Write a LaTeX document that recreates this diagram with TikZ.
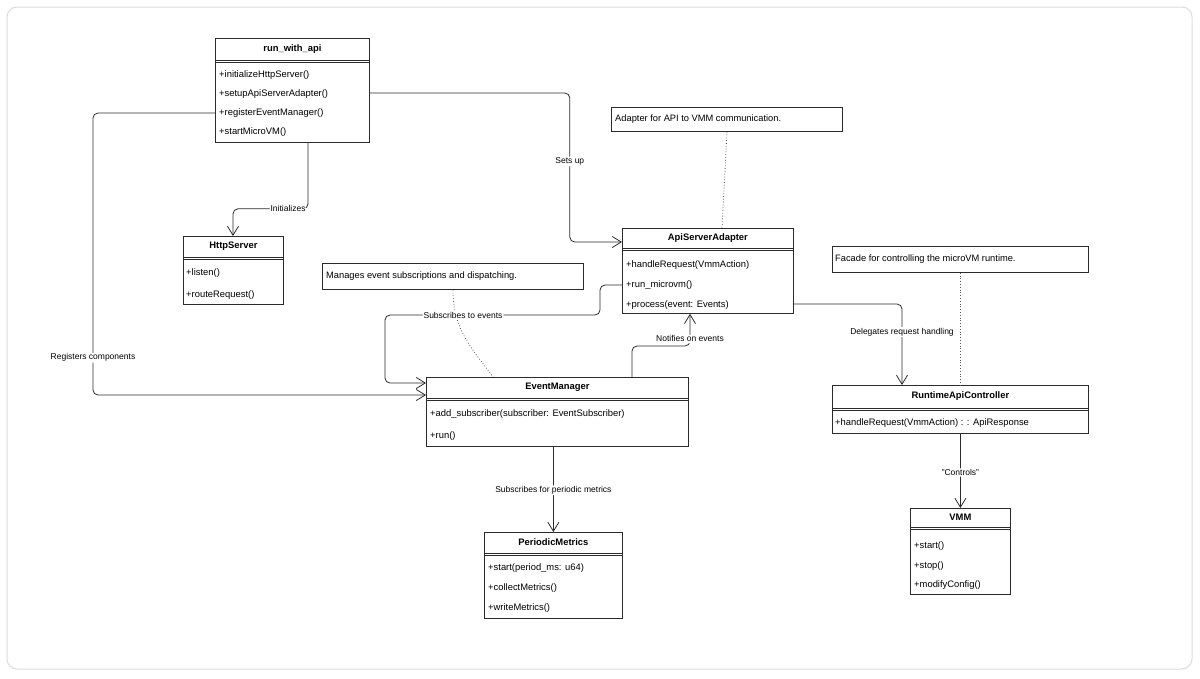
\documentclass[tikz,border=0pt]{standalone}
\usepackage{fontspec}
\setmainfont{Liberation Sans}
\usetikzlibrary{arrows.meta,calc}
\definecolor{lc}{HTML}{2B2B2B}
\definecolor{framec}{HTML}{DCDCDC}
\tikzset{
  cls/.style={draw=lc, line width=0.8pt, fill=white, rectangle, inner sep=0pt, anchor=north west},
  sepline/.style={draw=lc, line width=0.8pt},
  ctitle/.style={font=\fontsize{9.4}{11}\selectfont\bfseries, inner sep=0pt},
  member/.style={font=\fontsize{9.4}{11}\selectfont, anchor=west, inner sep=0pt},
  notebox/.style={draw=lc, line width=0.8pt, fill=white, rectangle, inner sep=0pt, anchor=north west},
  notetext/.style={font=\fontsize{9.3}{11}\selectfont, anchor=west, inner sep=0pt},
  conn/.style={draw=lc, line width=0.8pt, rounded corners=5pt, -{Straight Barb[length=9pt,width=11pt,line width=0.8pt]}},
  lbl/.style={font=\fontsize{8.5}{10}\selectfont, fill=white, inner sep=1pt},
  anno/.style={draw=lc!80, line width=0.8pt, dotted},
}
% #1 node name, #2 header height (pt), #3 title
\newcommand\clshead[3]{%
  \draw[sepline] ([yshift=-#2pt]#1.north west) -- ([yshift=-#2pt]#1.north east);
  \draw[sepline] ([yshift=-#2pt-2.2pt]#1.north west) -- ([yshift=-#2pt-2.2pt]#1.north east);
  \node[ctitle] (#1-t) at ([yshift=-#2pt/2]#1.north) {#3};
}
\begin{document}
\begin{tikzpicture}[x=1pt,y=-1pt]
\useasboundingbox (0,0) rectangle (1200,678);
\draw[framec, line width=1pt, rounded corners=10pt] (7,7) rectangle (1192,669);

% ---- classes ----
\node[cls, minimum width=154pt, minimum height=104pt] (run) at (215,38) {};
\clshead{run}{22}{run\_with\_api}
\node[member] (run-m1) at (219,75) {+initializeHttpServer()};
\node[member] (run-m2) at (219,94) {+setupApiServerAdapter()};
\node[member] (run-m3) at (219,113) {+registerEventManager()};
\node[member] (run-m4) at (219,132) {+startMicroVM()};

\node[cls, minimum width=100pt, minimum height=68pt] (http) at (183,236) {};
\clshead{http}{21}{HttpServer}
\node[member] (http-m1) at (186,273) {+listen()};
\node[member] (http-m2) at (186,295) {+routeRequest()};

\node[cls, minimum width=171pt, minimum height=85pt] (api) at (622,228) {};
\clshead{api}{20}{ApiServerAdapter}
\node[member] (api-m1) at (626,265) {+handleRequest(VmmAction)};
\node[member] (api-m2) at (626,285) {+run\_microvm()};
\node[member] (api-m3) at (626,305) {+process(event: Events)};

\node[cls, minimum width=262pt, minimum height=69pt] (em) at (426,377) {};
\clshead{em}{21}{EventManager}
\node[member] (em-m1) at (430,414) {+add\_subscriber(subscriber: EventSubscriber)};
\node[member] (em-m2) at (430,436) {+run()};

\node[cls, minimum width=256pt, minimum height=48pt] (rac) at (832,385) {};
\clshead{rac}{23}{RuntimeApiController}
\node[member] (rac-m1) at (835,423) {+handleRequest(VmmAction) : : ApiResponse};

\node[cls, minimum width=100pt, minimum height=86pt] (vmm) at (910,508) {};
\clshead{vmm}{19}{VMM}
\node[member] (vmm-m1) at (914,546) {+start()};
\node[member] (vmm-m2) at (914,566) {+stop()};
\node[member] (vmm-m3) at (914,585) {+modifyConfig()};

\node[cls, minimum width=138pt, minimum height=86pt] (pm) at (484,532) {};
\clshead{pm}{21}{PeriodicMetrics}
\node[member] (pm-m1) at (488,568) {+start(period\_ms: u64)};
\node[member] (pm-m2) at (488,588) {+collectMetrics()};
\node[member] (pm-m3) at (488,608) {+writeMetrics()};

% ---- notes ----
\node[notebox, minimum width=231pt, minimum height=24pt] (n1) at (611,107) {};
\node[notetext] (n1-t) at (615,119) {Adapter for API to VMM communication.};
\node[notebox, minimum width=261pt, minimum height=26pt] (n2) at (322,263) {};
\node[notetext] (n2-t) at (326,276) {Manages event subscriptions and dispatching.};
\node[notebox, minimum width=256pt, minimum height=26pt] (n3) at (832,246) {};
\node[notetext] (n3-t) at (835,259) {Facade for controlling the microVM runtime.};

% ---- note links ----
\draw[anno] ([xshift=116pt]n1.south west) -- ([xshift=100pt]api.north west);
\draw[anno] ([xshift=131pt]n2.south west) .. controls +(0,40) and +(-22,-30) .. ([xshift=67pt]em.north west);
\draw[anno] (n3.south) -- (rac.north);

% ---- connectors ----
\draw[conn] ([yshift=-55pt]run.north east) -- ++(200,0)
  |- node[lbl, pos=0.23] {Sets up} ([yshift=-14pt]api.north west);
\draw[conn] ([yshift=-75pt]run.north west) -- ++(-122,0)
  |- node[lbl, pos=0.434] {Registers components} ([yshift=-18pt]em.north west);
\draw[conn] ([yshift=-57pt]api.north west) -- ++(-22,0) -- ++(0,30)
  -- node[lbl, pos=0.637] {Subscribes to events} ++(-215,0)
  |- ([yshift=-6pt]em.north west);
\draw[conn] ([xshift=93pt]run.south west) -- ++(0,66)
  -| node[lbl, pos=0.133] {Initializes} ([xshift=50pt]http.north west);
\draw[conn] ([xshift=206pt]em.north west) -- ++(0,-31)
  -| node[lbl, pos=0.61] {Notifies on events} ([xshift=68pt]api.south west);
\draw[conn] ([yshift=-76pt]api.north east)
  -| node[lbl, pos=0.673] {Delegates request handling} ([xshift=70pt]rac.north west);
\draw[conn] (rac.south) -- node[lbl, pos=0.52] {"Controls"} (vmm.north);
\draw[conn] (em.south -| pm.north) -- node[lbl, pos=0.51] {Subscribes for periodic metrics} (pm.north);
\end{tikzpicture}
\end{document}
